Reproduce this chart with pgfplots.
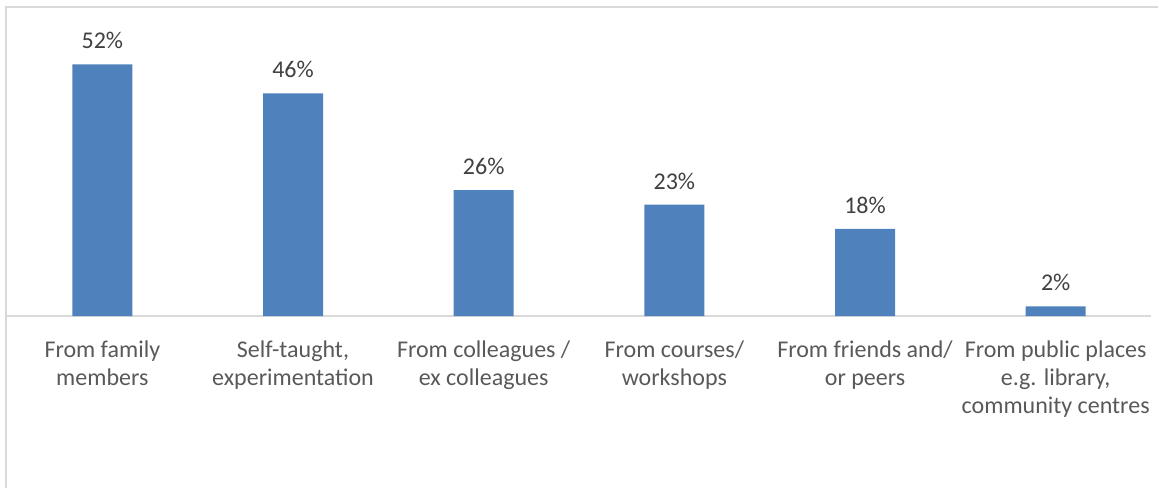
\documentclass[border=0pt]{standalone}
\usepackage{pgfplots}
\pgfplotsset{compat=1.18}
\usepackage{fontspec}
\setmainfont{Carlito}
\definecolor{barblue}{RGB}{79,129,189}
\definecolor{txtgray}{RGB}{89,89,89}
\definecolor{valgray}{RGB}{64,64,64}
\definecolor{linegray}{RGB}{217,217,217}
\begin{document}
\begin{tikzpicture}
\begin{axis}[
  scale only axis, width=572pt, height=145.2pt,
  xmin=-0.5, xmax=5.5, ymin=0, ymax=60,
  clip=false,
  hide y axis,
  axis x line*=bottom,
  x axis line style={draw=linegray, line width=1pt},
  ybar, bar width=30pt,
  xtick={0,1,2,3,4,5},
  major tick length=0pt,
  xticklabels={{From family\\members}, {Self-taught,\\experimentation}, {From colleagues /\\ex colleagues}, {From courses/\\workshops}, {From friends and/\\or peers}, {From public places\\e.g. library,\\community centres}},
  xticklabel style={align=center, text=txtgray, font=\fontsize{12}{14}\selectfont, yshift=-9pt},
  /pgf/number format/assume math mode=true,
  nodes near coords={\pgfmathprintnumber{\pgfplotspointmeta}\%},
  every node near coord/.append style={text=valgray, font=\fontsize{12}{14}\selectfont, yshift=4.2pt},
]
\addplot[fill=barblue, draw=none] coordinates {(0,52) (1,46) (2,26) (3,23) (4,18) (5,2)};
\path ([shift={(-3.5pt,-85pt)}]axis description cs:0,0) rectangle ([shift={(576pt,158pt)}]axis description cs:0,0);
\draw[linegray, line width=1pt] ([shift={(-0.4pt,-86pt)}]axis description cs:0,0) -- ([shift={(-0.4pt,154.4pt)}]axis description cs:0,0) -- ([shift={(575.5pt,154.4pt)}]axis description cs:0,0);
\end{axis}
\end{tikzpicture}
\end{document}
